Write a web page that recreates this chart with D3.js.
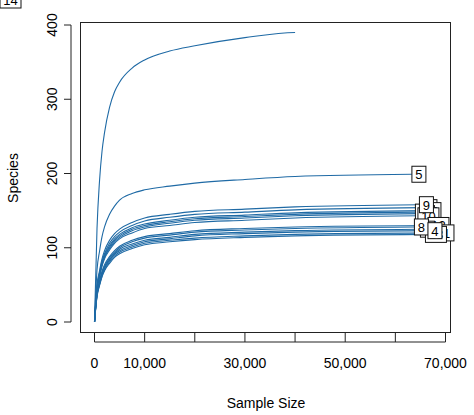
<!DOCTYPE html>
<html><head><meta charset="utf-8">
<script src="https://cdn.jsdelivr.net/npm/d3@7"></script>
<style>body{margin:0;background:#fff}text{font-family:"Liberation Sans",Arial,sans-serif}</style>
</head><body>
<script>
// sample sizes at which each curve was read (last value = that sample's depth)
const sampleIds = ["14","5","2","7","3","6","10","12","1","11","13","9","8","4"];
const depths    = [41000,63300,65500,66300,64000,65000,64500,66500,65000,67500,66000,64800,63800,66500];
const steps     = [0,500,1000,1500,2000,3000,4000,5000,7500,10000,15000,20000,30000,40000];
const species = [
  [0,126,190,230,255,289,310,323,342,353,365,372,383,390],
  [0,70,95,115,128,145,156,164,173,178,183,187,192,196,199],
  [0,48,66,82,92,106,115,121,130,136,141,145,148,151,154],
  [0,46,64,80,90,103,112,118,127,132,137,141,144,147,150],
  [0,45,63,78,88,101,110,116,125,130,135,139,142,145,148],
  [0,44,62,77,87,99,108,114,123,128,133,137,140,143,146],
  [0,43,60,75,85,97,106,112,120,126,130,134,137,140,143],
  [0,39,55,68,77,88,96,102,110,115,119,123,126,128,130],
  [0,37,52,65,73,84,92,98,105,110,114,118,121,123,125],
  [0,35,50,62,70,81,89,94,101,106,110,113,116,118,120],
  [0,34,49,61,69,79,87,92,99,104,108,111,114,116,118],
  [0,50,69,85,96,110,119,125,134,140,145,149,152,155,158],
  [0,38,54,67,75,86,94,100,108,113,117,121,124,126,128],
  [0,36,51,64,72,83,91,96,103,108,112,116,119,121,123]
];
const xTicks = [0,10000,20000,30000,40000,50000,60000,70000];
const xTickLabels = [0,10000,30000,50000,70000];
const yTicks = [0,100,200,300,400];

const svg = d3.select("body").append("svg").attr("width",474).attr("height",415);
const x = d3.scaleLinear().domain([0,70000]).range([94.5,445.5]);
const y = d3.scaleLinear().domain([0,400]).range([322,25]);

svg.append("rect").attr("x",80.5).attr("y",22.5).attr("width",370).attr("height",310)
  .attr("fill","none").attr("stroke","#222");

const curvePoints = i => {
  const xs = steps.filter(s => s < depths[i]).concat([depths[i]]);
  return xs.map((s,j) => [s, species[i][j]]);
};

const line = d3.line().x(d => x(d[0])).y(d => y(d[1])).curve(d3.curveMonotoneX);
sampleIds.forEach((id,i) => {
  svg.append("path").datum(curvePoints(i)).attr("d",line)
    .attr("fill","none").attr("stroke","#1f6aa5").attr("stroke-width",1.1);
});

// labels at curve ends
sampleIds.forEach((id,i) => {
  const pts = curvePoints(i);
  const endS = pts[pts.length-1][1];
  const g = svg.append("g").attr("transform",`translate(${x(depths[i])},${y(endS)})`);
  const w = id.length*7+7;
  g.append("rect").attr("x",0).attr("y",-8).attr("width",w).attr("height",16)
    .attr("fill","#fff").attr("stroke","#111");
  g.append("text").attr("x",w/2).attr("y",5).attr("text-anchor","middle")
    .attr("font-size",13).text(id);
});

// axes (R style, detached)
const gx = svg.append("g").attr("transform","translate(0,342)");
gx.append("line").attr("x1",x(0)).attr("x2",x(70000)).attr("stroke","#222");
gx.selectAll("line.t").data(xTicks).enter().append("line").attr("class","t")
  .attr("x1",d=>x(d)).attr("x2",d=>x(d)).attr("y1",0).attr("y2",-10).attr("stroke","#222");
gx.selectAll("text").data(xTickLabels).enter().append("text")
  .attr("x",d=>x(d)).attr("y",26).attr("text-anchor","middle").attr("font-size",14)
  .text(d=>d3.format(",")(d));

const gy = svg.append("g").attr("transform","translate(71,0)");
gy.append("line").attr("y1",y(0)).attr("y2",y(400)).attr("stroke","#222");
gy.selectAll("line.t").data(yTicks).enter().append("line").attr("class","t")
  .attr("y1",d=>y(d)).attr("y2",d=>y(d)).attr("x1",0).attr("x2",-7).attr("stroke","#222");
gy.selectAll("text").data(yTicks).enter().append("text")
  .attr("transform",d=>`translate(-14,${y(d)}) rotate(-90)`)
  .attr("text-anchor","middle").attr("font-size",14).text(d=>d);

svg.append("text").attr("x",266).attr("y",408).attr("text-anchor","middle")
  .attr("font-size",14).text("Sample Size");
svg.append("text").attr("transform","translate(18,178) rotate(-90)")
  .attr("text-anchor","middle").attr("font-size",14).text("Species");
</script>
</body></html>
